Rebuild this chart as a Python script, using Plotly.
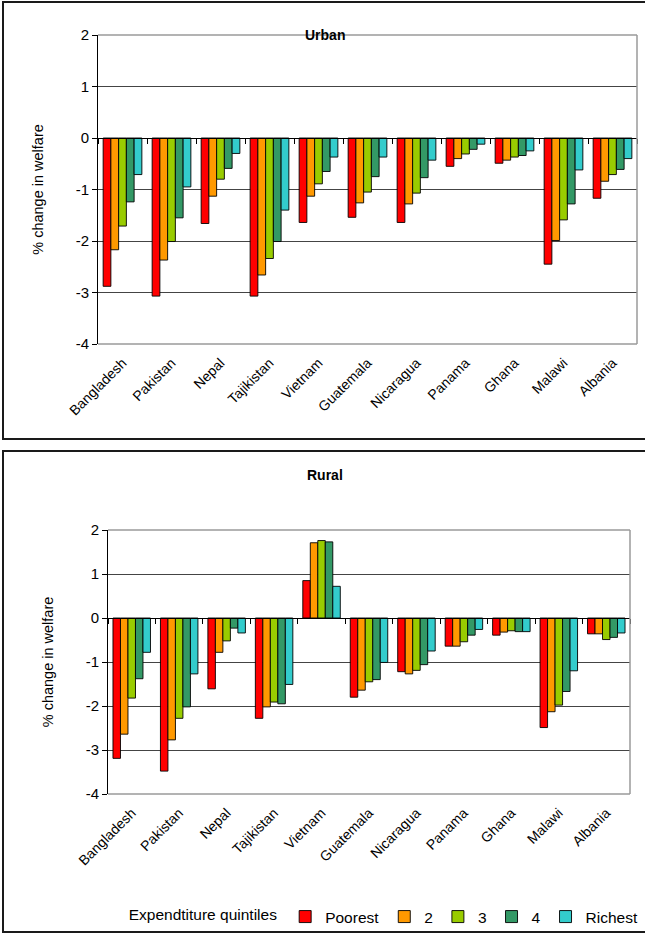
import plotly.graph_objects as go

countries = ["Bangladesh", "Pakistan", "Nepal", "Tajikistan", "Vietnam", "Guatemala",
             "Nicaragua", "Panama", "Ghana", "Malawi", "Albania"]
quintiles = ["Poorest", "2", "3", "4", "Richest"]
colors = ["#FF0000", "#FF9900", "#99CC00", "#339966", "#33CCCC"]
y_ticks = [2, 1, 0, -1, -2, -3, -4]
y_ticktext = ["2", "1", "0", "-1", "-2", "-3", "-4"]

urban_poorest = [-2.88, -3.07, -1.66, -3.07, -1.64, -1.54, -1.64, -0.55, -0.49, -2.45, -1.17]
urban_q2 = [-2.17, -2.37, -1.13, -2.66, -1.13, -1.26, -1.28, -0.40, -0.43, -1.99, -0.84]
urban_q3 = [-1.71, -2.01, -0.80, -2.34, -0.89, -1.05, -1.07, -0.31, -0.37, -1.59, -0.71]
urban_q4 = [-1.24, -1.55, -0.59, -2.01, -0.65, -0.75, -0.77, -0.22, -0.34, -1.28, -0.61]
urban_richest = [-0.71, -0.95, -0.30, -1.40, -0.37, -0.37, -0.43, -0.12, -0.25, -0.62, -0.40]

rural_poorest = [-3.19, -3.48, -1.61, -2.28, 0.85, -1.80, -1.22, -0.64, -0.39, -2.49, -0.36]
rural_q2 = [-2.64, -2.77, -0.78, -2.02, 1.71, -1.64, -1.27, -0.64, -0.32, -2.13, -0.36]
rural_q3 = [-1.82, -2.28, -0.52, -1.91, 1.76, -1.45, -1.19, -0.54, -0.29, -1.98, -0.49]
rural_q4 = [-1.38, -2.02, -0.23, -1.95, 1.73, -1.40, -1.06, -0.39, -0.31, -1.67, -0.44]
rural_richest = [-0.78, -1.27, -0.34, -1.51, 0.72, -1.01, -0.75, -0.26, -0.31, -1.20, -0.34]

urban = [urban_poorest, urban_q2, urban_q3, urban_q4, urban_richest]
rural = [rural_poorest, rural_q2, rural_q3, rural_q4, rural_richest]

W, H = 645, 933
FONT = "Liberation Sans, Arial, sans-serif"

def px_x(p):
    return p / W

def px_y(p):
    return (H - p) / H

idx = list(range(len(countries)))
bounds = [i - 0.5 for i in range(len(countries) + 1)]

fig = go.Figure()

for k, q in enumerate(quintiles):
    fig.add_trace(go.Bar(x=idx, y=urban[k], name=q, marker_color=colors[k],
                         marker_line=dict(color="black", width=0.9),
                         xaxis="x", yaxis="y", showlegend=False))
for k, q in enumerate(quintiles):
    fig.add_trace(go.Bar(x=idx, y=rural[k], name=q, marker_color=colors[k],
                         marker_line=dict(color="black", width=0.9),
                         xaxis="x2", yaxis="y2", showlegend=True))

# dummy traces for zero-line category tick axes
fig.add_trace(go.Scatter(x=[bounds[0], bounds[-1]], y=[None, None], xaxis="x3", yaxis="y",
                         mode="lines", showlegend=False, hoverinfo="skip"))
fig.add_trace(go.Scatter(x=[bounds[0], bounds[-1]], y=[None, None], xaxis="x4", yaxis="y2",
                         mode="lines", showlegend=False, hoverinfo="skip"))

u_dom_x = [px_x(98), px_x(637)]
u_dom_y = [px_y(344), px_y(35)]
r_dom_x = [px_x(108), px_x(630)]
r_dom_y = [px_y(794), px_y(530)]

ymin, ymax = -4, 2
zero_frac = (0 - ymin) / (ymax - ymin)

tickfont = dict(family=FONT, size=14, color="black")
xr = [bounds[0], bounds[-1]]

def xaxis_main(dom, anchor):
    return dict(domain=dom, anchor=anchor, range=xr, tickmode="array", tickvals=idx,
                ticktext=countries, tickangle=-45, tickfont=tickfont, showgrid=False,
                showline=False, ticks="", zeroline=False, automargin=False,
                ticklabelstandoff=7)

def xaxis_zero(dom, ydom, over):
    return dict(domain=dom, overlaying=over, anchor="free",
                position=ydom[0] + zero_frac * (ydom[1] - ydom[0]),
                range=xr, tickmode="array", tickvals=bounds, showticklabels=False,
                ticks="outside", ticklen=5, tickcolor="black", showline=True,
                linecolor="black", linewidth=1, showgrid=False, zeroline=False,
                automargin=False)

def yaxis(dom, anchor):
    return dict(domain=dom, anchor=anchor, range=[ymin, ymax],
                tickmode="array", tickvals=y_ticks, ticktext=y_ticktext,
                tickfont=dict(family=FONT, size=15, color="black"),
                ticks="outside", ticklen=5, tickcolor="black",
                showline=True, linecolor="black", linewidth=1, automargin=False,
                showgrid=True, gridcolor="#444444", gridwidth=1, zeroline=False,
                title=dict(text="% change in welfare", standoff=28,
                           font=dict(family=FONT, size=14.5, color="black")))

fig.update_layout(
    template="none",
    width=W, height=H, margin=dict(l=0, r=0, t=0, b=0, autoexpand=False),
    paper_bgcolor="white", plot_bgcolor="white",
    font=dict(family=FONT, color="black"),
    barmode="group", bargap=0.21, bargroupgap=0,
    xaxis=xaxis_main(u_dom_x, "y"),
    yaxis=yaxis(u_dom_y, "x"),
    xaxis2=xaxis_main(r_dom_x, "y2"),
    yaxis2=yaxis(r_dom_y, "x2"),
    xaxis3=xaxis_zero(u_dom_x, u_dom_y, "x"),
    xaxis4=xaxis_zero(r_dom_x, r_dom_y, "x2"),
    legend=dict(orientation="h", x=0.998, xanchor="right", y=px_y(917), yanchor="middle",
                font=dict(family=FONT, size=15.5, color="black"),
                title=dict(text="Expendtiture quintiles", side="left",
                           font=dict(family=FONT, size=15.5, color="black")),
                itemwidth=30, tracegroupgap=0, bgcolor="rgba(0,0,0,0)", borderwidth=0),
    showlegend=True,
)

annotations = [
    dict(text="<b>Urban</b>", x=px_x(325), y=px_y(25), xref="paper", yref="paper",
         showarrow=False, font=dict(family=FONT, size=14, color="black")),
    dict(text="<b>Rural</b>", x=px_x(325), y=px_y(475), xref="paper", yref="paper",
         showarrow=False, font=dict(family=FONT, size=14, color="black")),
]
fig.update_layout(annotations=annotations)

shapes = []
# outer chart boxes
for top, bot in [(2, 439), (451, 932)]:
    shapes.append(dict(type="rect", xref="paper", yref="paper", x0=px_x(3), x1=1.02,
                       y0=px_y(bot), y1=px_y(top), line=dict(color="#1a1a1a", width=2),
                       fillcolor="rgba(0,0,0,0)", layer="above"))
# plot-area gray border (top, right, bottom)
for xs, ys in [("x", "y"), ("x2", "y2")]:
    xd, yd = xs + " domain", ys + " domain"
    for (x0, y0, x1, y1) in [(0, 1, 1, 1), (1, 0, 1, 1), (0, 0, 1, 0)]:
        shapes.append(dict(type="line", xref=xd, yref=yd, x0=x0, y0=y0, x1=x1, y1=y1,
                           line=dict(color="#9a9a9a", width=1.5), layer="above"))
fig.update_layout(shapes=shapes)

fig.write_html("out.html", config={"displayModeBar": False},
               post_script="document.body.style.margin='0';document.body.style.overflow='hidden';")
